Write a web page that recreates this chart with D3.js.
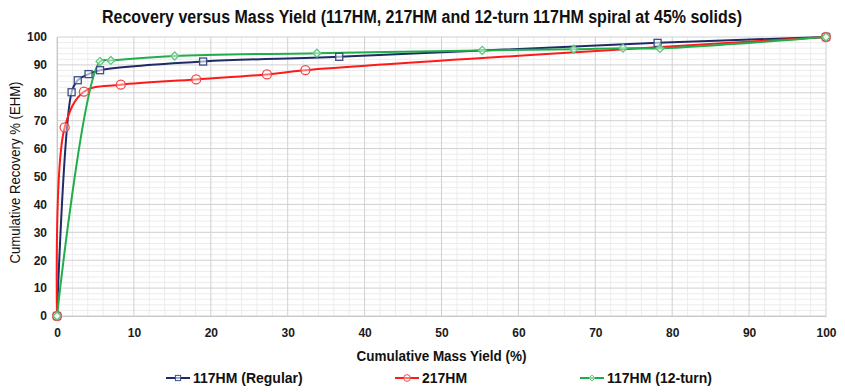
<!DOCTYPE html>
<html>
<head>
<meta charset="utf-8">
<script src="https://cdn.jsdelivr.net/npm/d3@7"></script>
<style>
  body { margin: 0; background: #fff; }
  svg text { font-family: "Liberation Sans Narrow", "Arial Narrow", "Liberation Sans", Arial, sans-serif; }
</style>
</head>
<body>
<div id="chart"></div>
<script>
// === DATA ===
const seriesNames = ["117HM (Regular)", "217HM", "117HM (12-turn)"];
const regularYield = [0, 1.9, 2.7, 4.1, 5.6, 19.0, 36.7, 78.1, 100];
const regularRecovery = [0, 80.2, 84.5, 86.7, 88.1, 91.2, 92.9, 97.9, 100];
const hm217Yield = [0, 1.0, 3.5, 8.3, 18.1, 27.3, 32.3, 100];
const hm217Recovery = [0, 67.6, 80.4, 82.9, 84.8, 86.6, 88.1, 100];
const turn12Yield = [0, 5.6, 7.0, 15.3, 33.8, 55.3, 67.2, 73.6, 78.4, 100];
const turn12Recovery = [0, 91.2, 91.6, 93.2, 94.2, 95.2, 95.6, 96.0, 95.9, 100];
const xTicks = [0, 10, 20, 30, 40, 50, 60, 70, 80, 90, 100];
const yTicks = [0, 10, 20, 30, 40, 50, 60, 70, 80, 90, 100];

const colors = ["#1f2b66", "#ff1a1a", "#1fae4a"];
const markerColors = ["#3a4d86", "#f04848", "#5cc77e"];

const series = [
    { name: seriesNames[0], x: regularYield, y: regularRecovery, shape: "square" },
    { name: seriesNames[1], x: hm217Yield, y: hm217Recovery, shape: "circle" },
    { name: seriesNames[2], x: turn12Yield, y: turn12Recovery, shape: "diamond" }
];

// === LAYOUT ===
const width = 845, height = 392;
const margin = { top: 37, right: 19, bottom: 76, left: 57 };
const plotW = width - margin.left - margin.right;
const plotH = height - margin.top - margin.bottom;

const svg = d3.select("#chart").append("svg")
    .attr("width", width)
    .attr("height", height);

const x = d3.scaleLinear().domain([0, 100]).range([0, plotW]);
const y = d3.scaleLinear().domain([0, 100]).range([plotH, 0]);

const g = svg.append("g").attr("transform", `translate(${margin.left},${margin.top})`);

// minor grid (every 2 units)
const minor = d3.range(0, 101, 2).filter(v => v % 10 !== 0);
g.append("g").selectAll("line.vmin").data(minor).enter().append("line")
    .attr("x1", d => x(d)).attr("x2", d => x(d))
    .attr("y1", 0).attr("y2", plotH)
    .attr("stroke", "#ececec").attr("stroke-width", 1);
g.append("g").selectAll("line.hmin").data(minor).enter().append("line")
    .attr("y1", d => y(d)).attr("y2", d => y(d))
    .attr("x1", 0).attr("x2", plotW)
    .attr("stroke", "#ececec").attr("stroke-width", 1);

// major grid
g.append("g").selectAll("line").data(xTicks).enter().append("line")
    .attr("x1", d => x(d)).attr("x2", d => x(d))
    .attr("y1", 0).attr("y2", plotH)
    .attr("stroke", "#d0d0d0").attr("stroke-width", 1);
g.append("g").selectAll("line").data(yTicks).enter().append("line")
    .attr("y1", d => y(d)).attr("y2", d => y(d))
    .attr("x1", 0).attr("x2", plotW)
    .attr("stroke", "#d0d0d0").attr("stroke-width", 1);

// axes
const xAxis = g.append("g")
    .attr("transform", `translate(0,${plotH})`)
    .call(d3.axisBottom(x).tickValues(xTicks).tickSize(0).tickPadding(12));
const yAxis = g.append("g")
    .call(d3.axisLeft(y).tickValues(yTicks).tickSize(0).tickPadding(10));
[xAxis, yAxis].forEach(a => {
    a.select(".domain").attr("stroke", "#c8c8c8");
    a.selectAll("text")
        .attr("font-size", 12)
        .attr("font-weight", "bold")
        .attr("fill", "#1a1a1a");
});

// lines
const line = d3.line()
    .x(d => x(d[0]))
    .y(d => y(d[1]))
    .curve(d3.curveCatmullRom.alpha(0.5));

series.forEach((s, i) => {
    const pts = s.x.map((v, j) => [v, s.y[j]]);
    g.append("path")
        .datum(pts)
        .attr("fill", "none")
        .attr("stroke", colors[i])
        .attr("stroke-width", 2)
        .attr("d", line);
});

// markers
function drawMarker(sel, shape, color) {
    if (shape === "square") {
        sel.append("rect").attr("x", -3.5).attr("y", -3.5).attr("width", 7).attr("height", 7)
            .attr("fill", "#fff").attr("fill-opacity", 0.6).attr("stroke", color).attr("stroke-width", 1.3);
    } else if (shape === "circle") {
        sel.append("circle").attr("r", 4.5)
            .attr("fill", "#fff").attr("fill-opacity", 0.4).attr("stroke", color).attr("stroke-width", 1.3);
    } else {
        sel.append("path").attr("d", "M0,-4L4,0L0,4L-4,0Z")
            .attr("fill", "#fff").attr("fill-opacity", 0.5).attr("stroke", color).attr("stroke-width", 1.3);
    }
}

series.forEach((s, i) => {
    const pts = s.x.map((v, j) => [v, s.y[j]]);
    g.append("g").selectAll("g").data(pts).enter().append("g")
        .attr("transform", d => `translate(${x(d[0])},${y(d[1])})`)
        .each(function () { drawMarker(d3.select(this), s.shape, markerColors[i]); });
});

// title (narrow font look)
svg.append("text")
    .attr("x", 102).attr("y", 23)
    .attr("font-size", 18).attr("font-weight", "bold")
    .attr("textLength", 640).attr("lengthAdjust", "spacingAndGlyphs")
    .attr("fill", "#111")
    .text("Recovery versus Mass Yield (117HM, 217HM and 12-turn 117HM spiral at 45% solids)");

// axis titles
svg.append("text")
    .attr("x", margin.left + plotW / 2).attr("y", 361)
    .attr("text-anchor", "middle")
    .attr("font-size", 14).attr("font-weight", "bold")
    .attr("textLength", 170).attr("lengthAdjust", "spacingAndGlyphs")
    .attr("fill", "#111")
    .text("Cumulative Mass Yield (%)");

svg.append("text")
    .attr("transform", `translate(20,${margin.top + plotH / 2 - 4}) rotate(-90)`)
    .attr("text-anchor", "middle")
    .attr("font-size", 14)
    .attr("textLength", 182).attr("lengthAdjust", "spacingAndGlyphs")
    .style("font-family", "'Liberation Sans', Arial, sans-serif")
    .attr("fill", "#111")
    .text("Cumulative Recovery % (EHM)");

// legend
const legendX = [166, 395, 580];
const legend = svg.append("g").attr("transform", "translate(0,378)");
series.forEach((s, i) => {
    const lg = legend.append("g").attr("transform", `translate(${legendX[i]},0)`);
    lg.append("line").attr("x1", 0).attr("x2", 24).attr("y1", 0).attr("y2", 0)
        .attr("stroke", colors[i]).attr("stroke-width", 2);
    const m = lg.append("g").attr("transform", "translate(12,0)");
    drawMarker(m, s.shape, markerColors[i]);
    m.selectAll("*").attr("transform", "scale(0.75)");
    lg.append("text").attr("x", 27).attr("y", 5)
        .attr("font-size", 14).attr("font-weight", "bold")
        .attr("fill", "#111")
        .text(s.name);
});
</script>
</body>
</html>
